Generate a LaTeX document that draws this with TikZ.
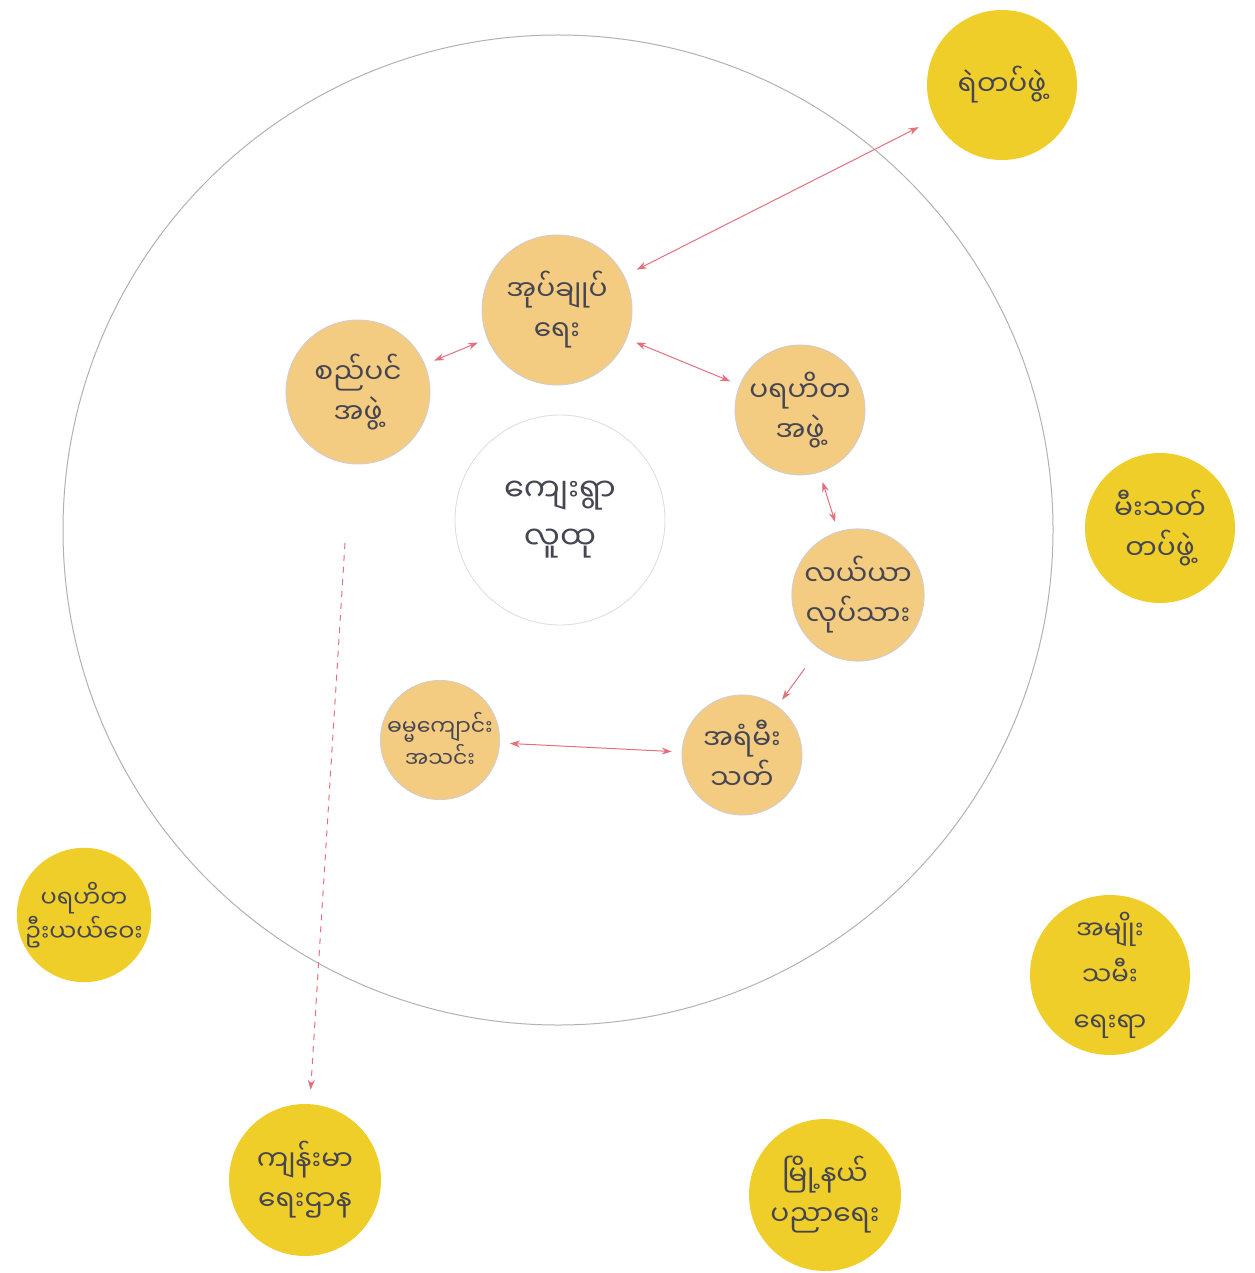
\documentclass[tikz,border=0pt]{standalone}
\usepackage{fontspec}
\newfontfamily\my[Script=Myanmar]{Noto Sans Myanmar UI}
\usetikzlibrary{arrows.meta}
\definecolor{crayonorange}{RGB}{240,186,88}
\definecolor{crayonyellow}{RGB}{240,206,42}
\definecolor{ink}{RGB}{70,70,82}
\definecolor{arrowred}{RGB}{228,112,124}
\definecolor{rim}{RGB}{205,205,212}
\begin{document}
\begin{tikzpicture}[x=0.5pt,y=-0.5pt,
  inorg/.style={circle,draw=rim,line width=0.4pt,fill=crayonorange,fill opacity=0.75,text opacity=1,
     text=ink,align=center,inner sep=0pt,minimum size=#1,font=\my\fontsize{14}{20}\selectfont},
  outyel/.style={circle,fill=crayonyellow,text=ink,align=center,inner sep=0pt,minimum size=#1,
     font=\my\fontsize{14}{20}\selectfont},
  link/.style={arrowred,line width=0.5pt,{Stealth[length=5pt,width=3.5pt]}-{Stealth[length=5pt,width=3.5pt]},
     shorten <=5pt,shorten >=5pt},
  onelink/.style={arrowred,line width=0.5pt,-{Stealth[length=5pt,width=3.5pt]},shorten <=6pt,shorten >=4pt},
]
\useasboundingbox (0,0) rectangle (1254,1273);
\fill[white] (0,0) rectangle (1254,1273);

% big ring
\node[circle,draw=gray!60,line width=0.5pt,minimum size=495pt,inner sep=0pt] (ring) at (558,530) {};

% centre
\node[circle,draw=rim!70,line width=0.4pt,minimum size=105pt,align=center,text=ink,
      font=\my\fontsize{16}{24}\selectfont] (c) at (560,520) {ကျေးရွာ\\လူထု};

% inner (orange) groups
\node[inorg=75pt] (admin) at (557,310) {အုပ်ချုပ်\\ရေး};
\node[inorg=72pt] (sp)    at (358,392) {စည်ပင်\\အဖွဲ့};
\node[inorg=65pt] (pr)    at (800,410) {ပရဟိတ\\အဖွဲ့};
\node[inorg=65pt] (ly)    at (858,595) {လယ်ယာ\\လုပ်သား};
\node[inorg=60pt] (ar)    at (742,755) {အရံမီး\\သတ်};
\node[inorg=55pt,font=\my\fontsize{11}{16}\selectfont] (dm) at (440,740) {ဓမ္မကျောင်း\\အသင်း};

% outer (yellow) organisations
\node[outyel=75pt] (police) at (1002,85)  {ရဲတပ်ဖွဲ့};
\node[outyel=75pt] (fire)   at (1160,528) {မီးသတ်\\တပ်ဖွဲ့};
\node[outyel=65pt,font=\my\fontsize{12}{17}\selectfont] (prl) at (84,915) {ပရဟိတ\\ဦးယယ်ဝေး};
\node[outyel=80pt,font=\my\fontsize{13}{23}\selectfont] (women)  at (1110,975) {အမျိုး\\သမီး\\ရေးရာ};
\node[outyel=76pt] (edu)    at (825,1195) {မြို့နယ်\\ပညာရေး};
\node[outyel=76pt] (health) at (305,1180) {ကျန်းမာ\\ရေးဌာန};

% connectors
\draw[link,shorten <=7pt,shorten >=9pt] (admin) -- (police);
\draw[link] (admin) -- (sp);
\draw[link] (admin) -- (pr);
\draw[link] (pr) -- (ly);
\draw[onelink,shorten <=12pt] (ly) -- (ar);
\draw[link] (dm) -- (ar);
\coordinate (drop) at (345,543);
\draw[arrowred,line width=0.5pt,dashed,-{Stealth[length=5pt,width=3.5pt]},shorten >=7pt] (drop) -- (health);
\end{tikzpicture}
\end{document}
